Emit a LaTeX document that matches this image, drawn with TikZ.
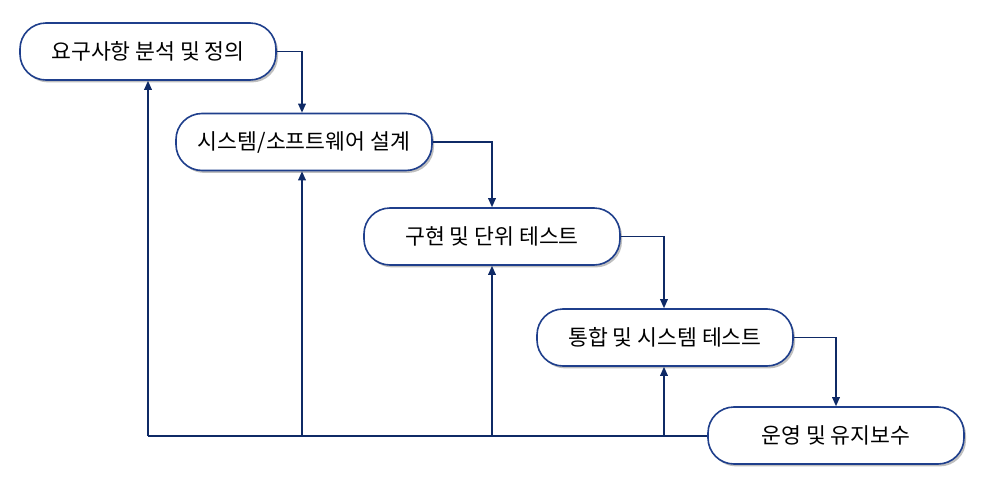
\documentclass[tikz,border=0pt]{standalone}
\usepackage{fontspec}
\newfontfamily\kr{Noto Sans CJK KR}
\usetikzlibrary{shadows,arrows.meta}
\definecolor{boxline}{HTML}{1F3F8C}
\definecolor{conn}{HTML}{0F2A66}
\begin{document}
\begin{tikzpicture}[x=0.5pt,y=-0.5pt,
  stage/.style={draw=boxline, line width=0.8pt, fill=white, rounded corners=13pt,
    minimum width=128pt, minimum height=28.5pt, inner sep=0pt,
    font=\kr\fontsize{10.8pt}{13pt}\selectfont,
    drop shadow={shadow xshift=1pt, shadow yshift=-1.2pt, opacity=0.25, fill=black}},
  link/.style={draw=conn, line width=0.7pt, -{Triangle[length=4.5pt,width=3.8pt]}},
  back/.style={draw=conn, line width=0.7pt}]
\useasboundingbox (0,0) rectangle (993,493);
\node[stage] (s1) at (148,51.5) {요구사항 분석 및 정의};
\node[stage] (s2) at (304,142) {시스템/소프트웨어 설계};
\node[stage] (s3) at (492,236.5) {구현 및 단위 테스트};
\node[stage] (s4) at (665,337.5) {통합 및 시스템 테스트};
\node[stage] (s5) at (836,435.5) {운영 및 유지보수};
% forward
\draw[link] (s1.east) -| (302,0 |- s2.north);
\draw[link] (s2.east) -| (s3.north);
\draw[link] (s3.east) -| (664,0 |- s4.north);
\draw[link] (s4.east) -| (s5.north);
% feedback
\coordinate (j1) at (148,436);
\coordinate (j2) at (302,436);
\coordinate (j3) at (492,436);
\coordinate (j4) at (664,436);
\draw[back] (s5.west |- j4) -- (j1);
\draw[link] (j1) -- (s1.south);
\draw[link] (j2) -- (j2 |- s2.south);
\draw[link] (j3) -- (s3.south);
\draw[link] (j4) -- (j4 |- s4.south);
\end{tikzpicture}
\end{document}
